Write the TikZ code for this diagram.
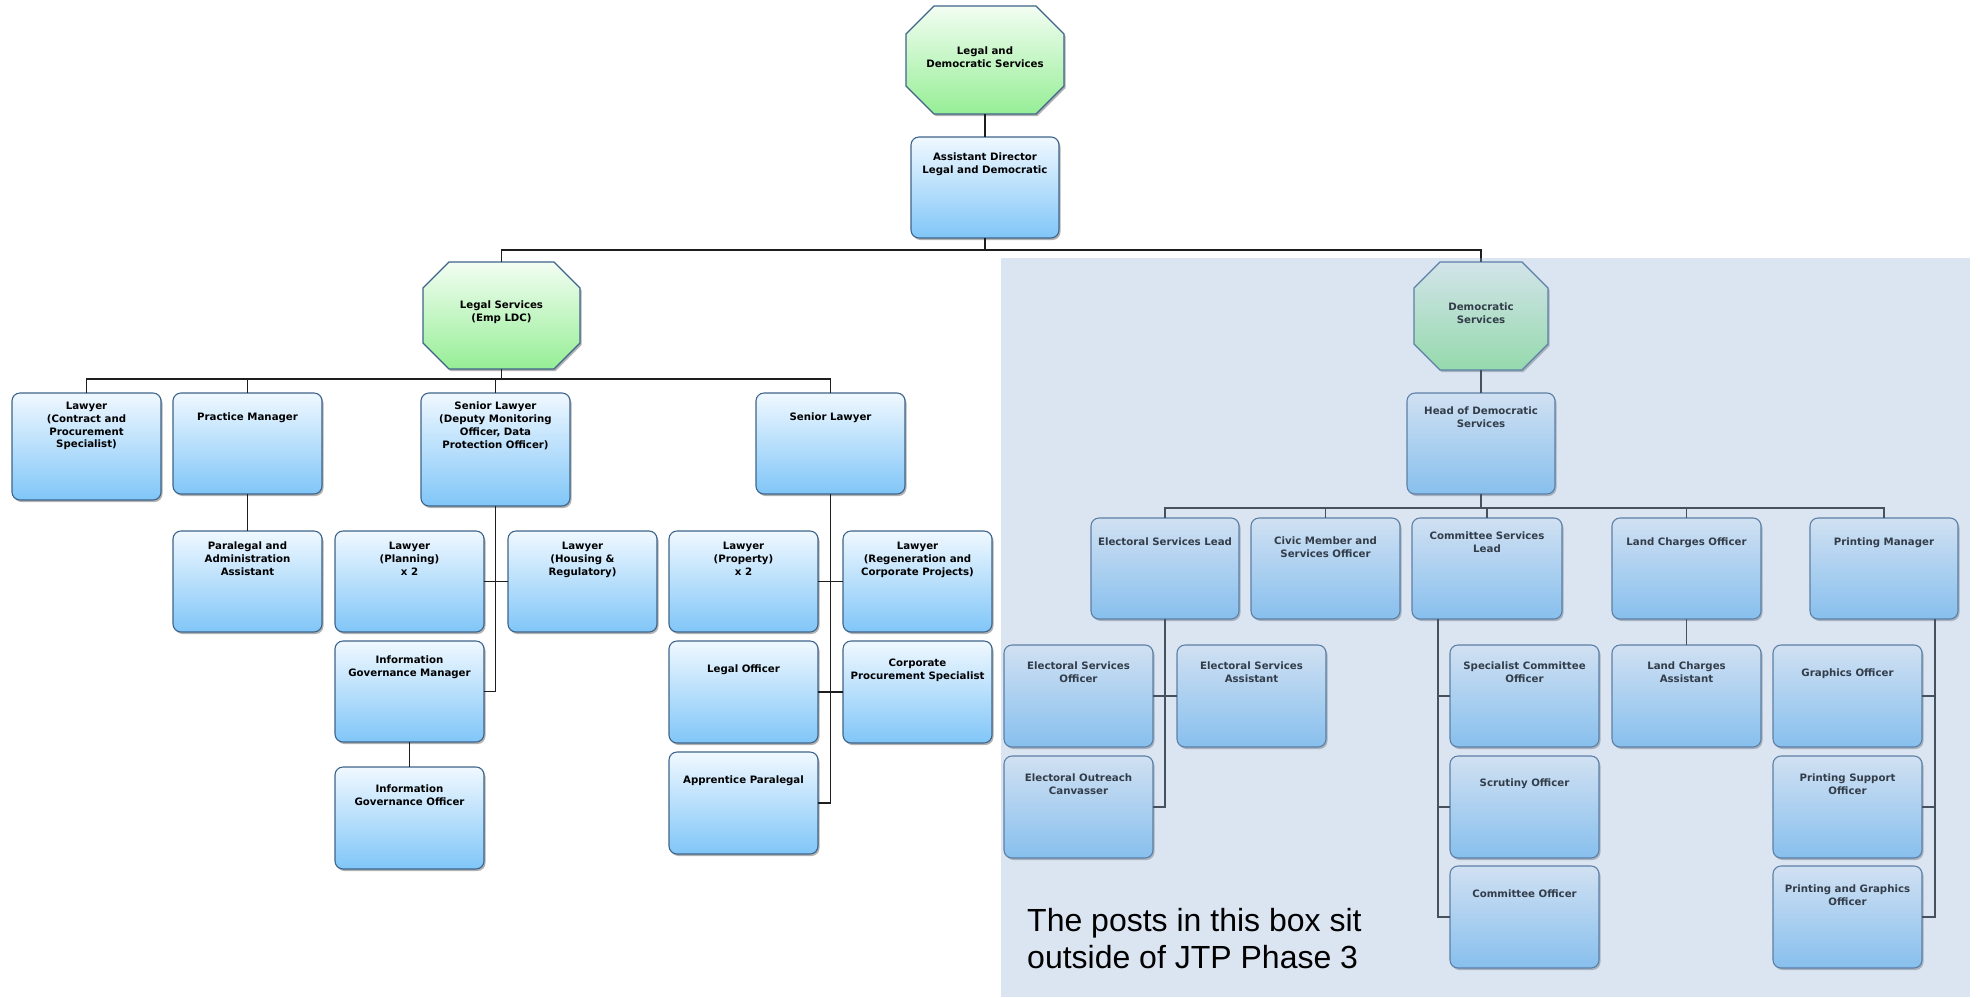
\documentclass[tikz,border=0pt]{standalone}
\usepackage{fontspec}
\setmainfont{DejaVu Sans}
\newfontfamily\notefont{Liberation Sans}
\usetikzlibrary{shadows,calc}

\definecolor{edgeblue}{RGB}{62,100,138}
\definecolor{boxtop}{RGB}{240,248,255}
\definecolor{boxbot}{RGB}{128,198,248}
\definecolor{octtop}{RGB}{242,253,242}
\definecolor{octbot}{RGB}{150,238,150}
\definecolor{overlaycol}{RGB}{150,180,218}
\definecolor{wirecol}{RGB}{30,30,30}

\tikzset{
  post/.style={draw=edgeblue, line width=1.1pt, rounded corners=8pt,
    top color=boxtop, bottom color=boxbot,
    drop shadow={shadow xshift=1.5pt, shadow yshift=-2pt, opacity=0.3, fill=black},
    inner sep=0pt, outer sep=0pt},
  posttext/.style={font=\bfseries\fontsize{10.2}{12.7}\selectfont, align=center,
    inner sep=0pt, text=black},
  octshape/.style={draw=edgeblue, line width=1.1pt, top color=octtop, bottom color=octbot,
    drop shadow={shadow xshift=1.5pt, shadow yshift=-2pt, opacity=0.3, fill=black}},
  octtext/.style={draw=none, font=\bfseries\fontsize{10.2}{12.7}\selectfont,
    align=center, inner sep=0pt, outer sep=0pt, text=black},
  wire/.style={draw=wirecol, line width=1.2pt},
  notetext/.style={font=\notefont\fontsize{32}{37}\selectfont, align=left,
    inner sep=0pt, text=black},
}

% name, x1, y1, x2, y2, cap offset, text
\newcommand\postbox[7]{%
  \node[post, minimum width={#4-#2}, minimum height={#5-#3},
    label={[posttext, anchor=north, yshift={-(#6)}]north:{#7}}]
    (#1) at ({(#2+#4)/2},{-(#3+#5)/2}) {};}

% name, x1, y1, x2, y2, cut, text
\newcommand\octnode[7]{%
  \path[octshape] (#2+#6,-#3) -- (#4-#6,-#3) -- (#4,-#3-#6) -- (#4,-#5+#6)
    -- (#4-#6,-#5) -- (#2+#6,-#5) -- (#2,-#5+#6) -- (#2,-#3-#6) -- cycle;
  \node[octtext, minimum width={#4-#2}, minimum height={#5-#3},
    label={[octtext, yshift=3pt]center:{#7}}]
    (#1) at ({(#2+#4)/2},{-(#3+#5)/2}) {};}

\begin{document}
\begin{tikzpicture}[x=1pt, y=1pt]
\useasboundingbox (0,0) rectangle (1982,-997);
\fill[white] (0,0) rectangle (1982,-997);

% ---- top ----
\octnode{lds}{906}{6}{1064}{114}{28}{Legal and\\Democratic Services}
\postbox{ad}{911}{137}{1059}{238}{16}{Assistant Director\\Legal and Democratic}

% ---- legal services ----
\octnode{ls}{423}{262}{580}{369}{26}{Legal Services\\(Emp LDC)}
\postbox{lawc}{12}{393}{161}{500}{9}{Lawyer\\(Contract and\\Procurement\\Specialist)}
\postbox{pm}{173}{393}{322}{494}{20}{Practice Manager}
\postbox{para}{173}{531}{322}{632}{11}{Paralegal and\\Administration\\Assistant}
\postbox{sldmo}{421}{393}{570}{506}{9}{Senior Lawyer\\(Deputy Monitoring\\Officer, Data\\Protection Officer)}
\postbox{lplan}{335}{531}{484}{632}{11}{Lawyer\\(Planning)\\x 2}
\postbox{lhous}{508}{531}{657}{632}{11}{Lawyer\\(Housing \&\\Regulatory)}
\postbox{igm}{335}{641}{484}{742}{15}{Information\\Governance Manager}
\postbox{igo}{335}{767}{484}{869}{18}{Information\\Governance Officer}
\postbox{sl}{756}{393}{905}{494}{20}{Senior Lawyer}
\postbox{lprop}{669}{531}{818}{632}{11}{Lawyer\\(Property)\\x 2}
\postbox{lregen}{843}{531}{992}{632}{11}{Lawyer\\(Regeneration and\\Corporate Projects)}
\postbox{lo}{669}{641}{818}{743}{24}{Legal Officer}
\postbox{cps}{843}{641}{992}{743}{18}{Corporate\\Procurement Specialist}
\postbox{ap}{669}{752}{818}{854}{24}{Apprentice Paralegal}

% ---- democratic services ----
\octnode{ds}{1414}{262}{1548}{370}{26}{Democratic\\Services}
\postbox{hds}{1407}{393}{1555}{494}{14}{Head of Democratic\\Services}
\postbox{esl}{1091}{518}{1239}{619}{20}{Electoral Services Lead}
\postbox{civic}{1251}{518}{1400}{619}{19}{Civic Member and\\Services Officer}
\postbox{csl}{1412}{518}{1562}{619}{14}{Committee Services\\Lead}
\postbox{lco}{1612}{518}{1761}{619}{20}{Land Charges Officer}
\postbox{prm}{1810}{518}{1958}{619}{20}{Printing Manager}
\postbox{eso}{1004}{645}{1153}{747}{17}{Electoral Services\\Officer}
\postbox{esa}{1177}{645}{1326}{747}{17}{Electoral Services\\Assistant}
\postbox{eoc}{1004}{756}{1153}{858}{18}{Electoral Outreach\\Canvasser}
\postbox{sco}{1450}{645}{1599}{747}{17}{Specialist Committee\\Officer}
\postbox{so}{1450}{756}{1599}{858}{23}{Scrutiny Officer}
\postbox{co}{1450}{866}{1599}{968}{24}{Committee Officer}
\postbox{lca}{1612}{645}{1761}{747}{17}{Land Charges\\Assistant}
\postbox{go}{1773}{645}{1922}{747}{24}{Graphics Officer}
\postbox{pso}{1773}{756}{1922}{858}{18}{Printing Support\\Officer}
\postbox{pgo}{1773}{866}{1922}{968}{19}{Printing and Graphics\\Officer}

% ---- connectors ----
\draw[wire] (lds.south) -- (ad.north);
\draw[wire] (ad.south) -- ++(0,-12) -| (ls.north);
\draw[wire] (ad.south) -- ++(0,-12) -| (ds.north);

\foreach \c in {lawc,pm,sldmo,sl}
  \draw[wire] (ls.south) -- ++(0,-10) -| (\c.north);
\draw[wire] (pm.south) -- (para.north);
\draw[wire] (sldmo.south) |- (lplan.east);
\draw[wire] (sldmo.south) |- (lhous.west);
\draw[wire] (sldmo.south) |- (igm.east);
\draw[wire] (igm.south) -- (igo.north);
\draw[wire] (sl.south) |- (lprop.east);
\draw[wire] (sl.south) |- (lregen.west);
\draw[wire] (sl.south) |- (lo.east);
\draw[wire] (sl.south) |- (cps.west);
\draw[wire] (sl.south) |- (ap.east);

\draw[wire] (ds.south) -- (hds.north);
\foreach \c in {esl,civic,csl,lco,prm}
  \draw[wire] (hds.south) -- ++(0,-14) -| (\c.north);
\draw[wire] (esl.south) |- (eso.east);
\draw[wire] (esl.south) |- (esa.west);
\draw[wire] (esl.south) |- (eoc.east);
\coordinate (cslfoot) at ($(csl.south west)+(26,0)$);
\draw[wire] (cslfoot) |- (sco.west);
\draw[wire] (cslfoot) |- (so.west);
\draw[wire] (cslfoot) |- (co.west);
\draw[wire] (lco.south) -- (lca.north);
\coordinate (prmfoot) at ($(prm.south east)+(-23,0)$);
\draw[wire] (prmfoot) |- (go.east);
\draw[wire] (prmfoot) |- (pso.east);
\draw[wire] (prmfoot) |- (pgo.east);

% ---- overlay panel ----
\fill[overlaycol, fill opacity=0.34] (1001,-258) rectangle (1970,-997);
\node[notetext, anchor=north west] (note) at (1027,-908)
  {The posts in this box sit\\outside of JTP Phase 3};
\end{tikzpicture}
\end{document}
